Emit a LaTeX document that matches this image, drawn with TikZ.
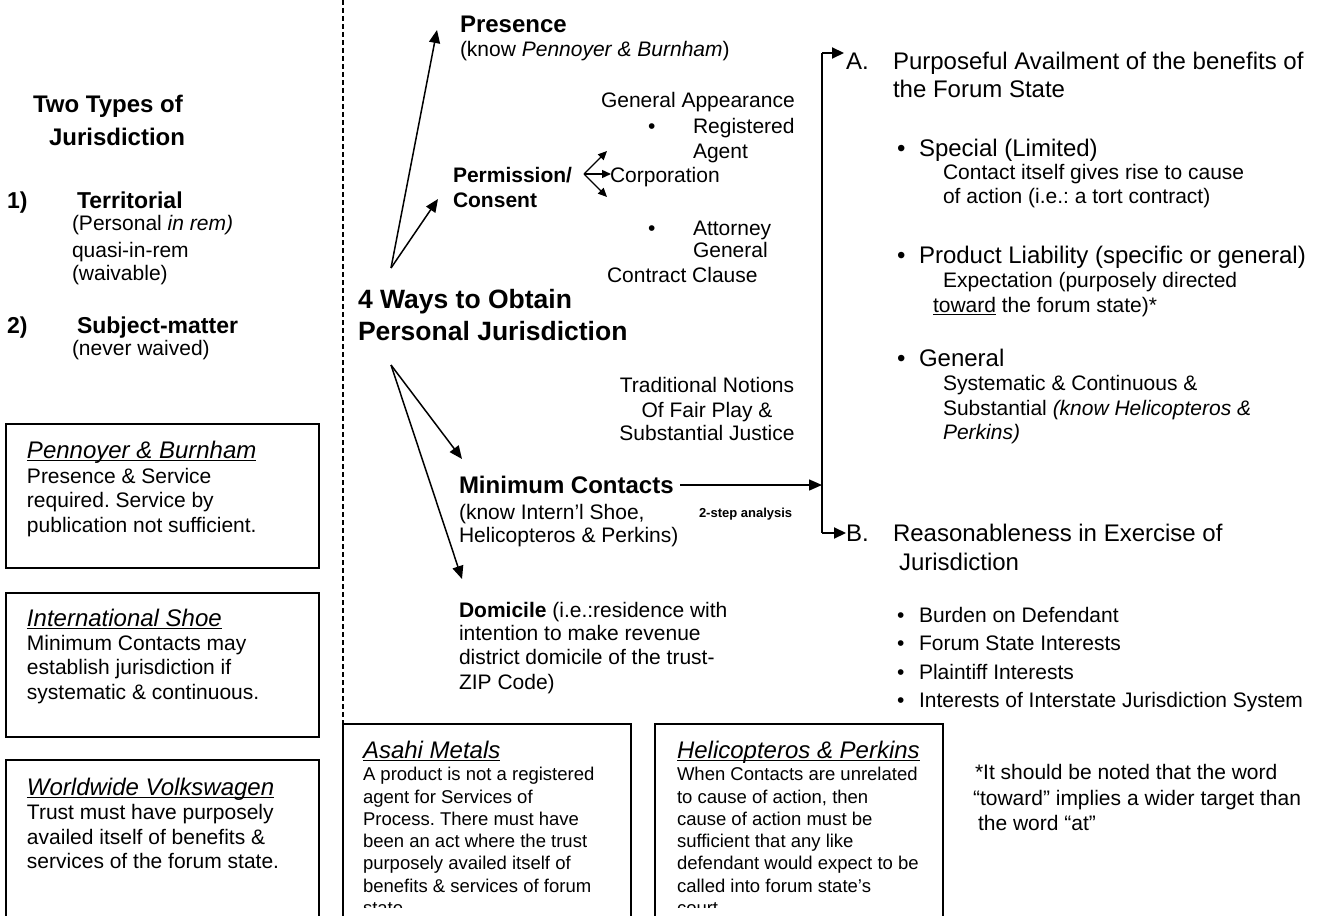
\documentclass[tikz,border=0pt]{standalone}
\usepackage{fontspec}
\setmainfont{Liberation Sans}
\usetikzlibrary{arrows.meta}
\frenchspacing
\newcommand\UL[1]{\setbox0=\hbox{#1}\rlap{\rule[-0.14em]{\wd0}{0.06em}}\box0\relax}
\tikzset{
 txt/.style={anchor=base west, inner sep=0pt, outer sep=0pt},
 r21/.style={txt, font=\fontsize{21}{24}\selectfont},
 b21/.style={txt, font=\fontsize{21}{24}\selectfont\bfseries},
 r24/.style={txt, font=\fontsize{24}{28}\selectfont},
 b24/.style={txt, font=\fontsize{24}{28}\selectfont\bfseries},
 b23/.style={txt, font=\fontsize{23}{27}\selectfont\bfseries},
 b26/.style={txt, font=\fontsize{26.5}{30}\selectfont\bfseries},
 i24/.style={txt, font=\fontsize{24}{28}\selectfont\itshape},
 r18/.style={txt, font=\fontsize{18.5}{22}\selectfont},
 b13/.style={txt, font=\fontsize{13}{15}\selectfont\bfseries},
 arr/.style={line width=1.5pt, -{Triangle[length=13pt,width=11pt]}},
 sarr/.style={line width=1.3pt, -{Triangle[length=9pt,width=8pt]}},
 barr/.style={line width=2pt, -{Triangle[length=12pt,width=11pt]}},
 casebox/.style={draw, line width=2pt},
 sep/.style={line width=1.5pt, dash pattern=on 5pt off 3pt},
}
\begin{document}
\begin{tikzpicture}[x=1pt,y=-1pt]
\fill[white] (0,0) rectangle (1324,915);
\useasboundingbox (0,0) rectangle (1324,915);

% ---------- left column ----------
\node[b24] (tt1) at (33,113) {Two Types of};
\node[b24] (tt2) at (49,146) {Jurisdiction};
\node[b23] (n1) at (7,208) {1)};
\node[b23] (terr) at (77,208) {Territorial};
\node[r21] (terr1) at (72,230) {(Personal \textit{in rem)}};
\node[r21] (terr2) at (72,257) {quasi-in-rem};
\node[r21] (terr3) at (72,280) {(waivable)};
\node[b23] (n2) at (7,333) {2)};
\node[b23] (subj) at (77,333) {Subject-matter};
\node[r21] (subj1) at (72,355) {(never waived)};

\draw[casebox] (6,424) rectangle (319,568);
\node[i24] (pb0) at (27,458) {\UL{Pennoyer \& Burnham}};
\node[r21] (pb1) at (27,483) {Presence \& Service};
\node[r21] (pb2) at (27,507) {required. Service by};
\node[r21] (pb3) at (27,532) {publication not sufficient.};

\draw[casebox] (6,593) rectangle (319,737);
\node[i24] (is0) at (27,626) {\UL{International Shoe}};
\node[r21] (is1) at (27,650) {Minimum Contacts may};
\node[r21] (is2) at (27,674) {establish jurisdiction if};
\node[r21] (is3) at (27,699) {systematic \& continuous.};

\draw[casebox] (6,760) rectangle (319,940);
\node[i24] (wv0) at (27,795) {\UL{Worldwide Volkswagen}};
\node[r21] (wv1) at (27,819) {Trust must have purposely};
\node[r21] (wv2) at (27,844) {availed itself of benefits \&};
\node[r21] (wv3) at (27,868) {services of the forum state.};

% separator
\draw[sep] (343,0) -- (343,724);

% ---------- bottom boxes ----------
\draw[casebox] (343,724) rectangle (631,940);
\draw[casebox] (655,724) rectangle (943,940);
\node[i24] (as0) at (363,758) {\UL{Asahi Metals}};
\node[i24] (hp0) at (677,758) {\UL{Helicopteros \& Perkins}};
\begin{scope}
\clip (340,700) rectangle (950,907);
\node[r18] (as1) at (363,780) {A product is not a registered};
\node[r18] (as2) at (363,803) {agent for Services of};
\node[r18] (as3) at (363,825) {Process. There must have};
\node[r18] (as4) at (363,847) {been an act where the trust};
\node[r18] (as5) at (363,869) {purposely availed itself of};
\node[r18] (as6) at (363,892) {benefits \& services of forum};
\node[r18] (as7) at (363,914) {state};
\node[r18] (hp1) at (677,780) {When Contacts are unrelated};
\node[r18] (hp2) at (677,803) {to cause of action, then};
\node[r18] (hp3) at (677,825) {cause of action must be};
\node[r18] (hp4) at (677,847) {sufficient that any like};
\node[r18] (hp5) at (677,869) {defendant would expect to be};
\node[r18] (hp6) at (677,892) {called into forum state’s};
\node[r18] (hp7) at (677,914) {court};
\end{scope}

% ---------- middle ----------
\node[b24] (pres) at (460,33) {Presence};
\node[r21] (pres1) at (460,57) {(know \textit{Pennoyer \& Burnham})};
\node[r21] (ga) at (601,107) {General Appearance};
\node[r21] (bul1) at (648,134) {•};
\node[r21] (reg1) at (693,134) {Registered};
\node[r21] (reg2) at (693,158) {Agent};
\node[b21] (perm1) at (453,182) {Permission/};
\node[b21] (perm2) at (453,207) {Consent};
\node[r21] (corp) at (610,182) {Corporation};
\node[r21] (bul2) at (648,235) {•};
\node[r21] (att1) at (693,235) {Attorney};
\node[r21] (att2) at (693,257) {General};
\node[r21] (cc) at (607,282) {Contract Clause};

\node[b26] (four1) at (358,308) {4 Ways to Obtain};
\node[b26] (four2) at (358,340) {Personal Jurisdiction};

\node[r21, anchor=base] (tn1) at (707,392) {Traditional Notions};
\node[r21, anchor=base] (tn2) at (707,417) {Of Fair Play \&};
\node[r21, anchor=base] (tn3) at (707,440) {Substantial Justice};

\node[b24] (mc) at (459,493) {Minimum Contacts};
\node[r21] (mc1) at (459,519) {(know Intern’l Shoe,};
\node[r21] (mc2) at (459,542) {Helicopteros \& Perkins)};
\node[b13] (two) at (699,517) {2-step analysis};

\node[r21] (dom1) at (459,617) {\textbf{Domicile} (i.e.:residence with};
\node[r21] (dom2) at (459,640) {intention to make revenue};
\node[r21] (dom3) at (459,664) {district domicile of the trust-};
\node[r21] (dom4) at (459,689) {ZIP Code)};

% arrows from the "4 ways" hub
\coordinate (hubA) at (391,268);
\coordinate (hubB) at (391,365);
\coordinate (tPres) at (437,30);
\coordinate (tPerm) at (438,199);
\coordinate (tMin) at (462,459);
\coordinate (tDom) at (462,579);
\draw[arr] (hubA) -- (tPres);
\draw[arr] (hubA) -- (tPerm);
\draw[arr] (hubB) -- (tMin);
\draw[arr] (hubB) -- (tDom);

% small arrows at Corporation
\coordinate (cp) at (584,174);
\coordinate (cpU) at (607,151);
\coordinate (cpD) at (607,197);
\coordinate (cpR) at (611,174);
\draw[sarr] (cp) -- (cpU);
\draw[sarr] (cp) -- (cpD);
\draw[sarr] (cp) -- (cpR);

% bracket
\coordinate (mcR) at (680,485);
\coordinate (brT) at (822,53);
\coordinate (brM) at (822,485);
\coordinate (brB) at (822,533);
\coordinate (tA) at (844,53);
\coordinate (tB) at (846,533);
\draw[arr] (mcR) -- (brM);
\draw[line width=2.4pt] (brT) -- (brB);
\draw[barr] (brT) -- (tA);
\draw[barr] (brB) -- (tB);

% ---------- right column ----------
\node[r24] (A) at (846,70) {A.};
\node[r24] (A1) at (893,70) {Purposeful Availment of the benefits of};
\node[r24] (A2) at (893,98) {the Forum State};

\node[r24] (bs1) at (897,156) {•};
\node[r24] (sp) at (919,156) {Special (Limited)};
\node[r21] (sp1) at (943,179) {Contact itself gives rise to cause};
\node[r21] (sp2) at (943,203) {of action (i.e.: a tort contract)};

\node[r24] (bs2) at (897,263) {•};
\node[r24] (pl) at (919,263) {Product Liability (specific or general)};
\node[r21] (pl1) at (943,287) {Expectation (purposely directed};
\node[r21] (pl2) at (933,312) {\UL{toward} the forum state)*};

\node[r24] (bs3) at (897,366) {•};
\node[r24] (gn) at (919,366) {General};
\node[r21] (gn1) at (943,390) {Systematic \& Continuous \&};
\node[r21] (gn2) at (943,415) {Substantial \textit{(know Helicopteros \&}};
\node[r21] (gn3) at (943,439) {\textit{Perkins)}};

\node[r24] (B) at (846,541) {B.};
\node[r24] (B1) at (893,541) {Reasonableness in Exercise of};
\node[r24] (B2) at (899,570) {Jurisdiction};

\node[r21] (bb1) at (897,622) {•};
\node[r21] (rb1) at (919,622) {Burden on Defendant};
\node[r21] (bb2) at (897,650) {•};
\node[r21] (rb2) at (919,650) {Forum State Interests};
\node[r21] (bb3) at (897,679) {•};
\node[r21] (rb3) at (919,679) {Plaintiff Interests};
\node[r21] (bb4) at (897,707) {•};
\node[r21] (rb4) at (919,707) {Interests of Interstate Jurisdiction System};

\node[r21] (fn1) at (975,779) {*It should be noted that the word};
\node[r21] (fn2) at (973,805) {“toward” implies a wider target than};
\node[r21] (fn3) at (978,830) {the word “at”};
\end{tikzpicture}
\end{document}
